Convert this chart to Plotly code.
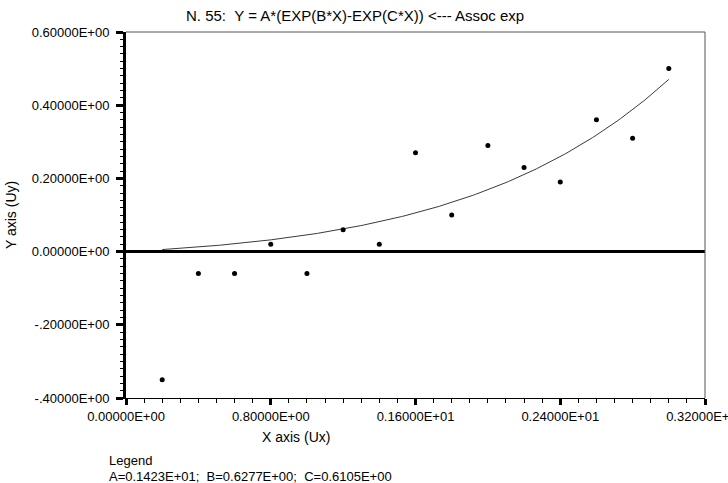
import numpy as np
import plotly.graph_objects as go

# ---- data ----
x_data = [0.2, 0.4, 0.6, 0.8, 1.0, 1.2, 1.4, 1.6, 1.8, 2.0, 2.2, 2.4, 2.6, 2.8, 3.0]
y_data = [-0.35, -0.06, -0.06, 0.02, -0.06, 0.06, 0.02, 0.27, 0.10, 0.29, 0.23, 0.19, 0.36, 0.31, 0.50]

# fitted parameters (shown in the legend)
A = 0.1423e+01
B = 0.6277e+00
C = 0.6105e+00

x_ticks = [0.0, 0.8, 1.6, 2.4, 3.2]
x_tick_labels = ["0.00000E+00", "0.80000E+00", "0.16000E+01", "0.24000E+01", "0.32000E+01"]
y_ticks = [-0.4, -0.2, 0.0, 0.2, 0.4, 0.6]
y_tick_labels = ["-.40000E+00", "-.20000E+00", "0.00000E+00", "0.20000E+00", "0.40000E+00", "0.60000E+00"]

title_text = "N. 55:\u00a0\u00a0Y = A*(EXP(B*X)-EXP(C*X)) <--- Assoc exp"
legend_title = "Legend"
legend_text = "A=0.1423E+01;\u00a0\u00a0B=0.6277E+00;\u00a0\u00a0C=0.6105E+00"

# fitted curve over the data range
xc = np.linspace(min(x_data), max(x_data), 200)
yc = A * (np.exp(B * xc) - np.exp(C * xc))

W, H = 728, 483
L, R, T, Bm = 126, 23, 32, 85
pw, ph = W - L - R, H - T - Bm

def px(xp):
    return (xp - L) / pw

def py(yp):
    return (H - Bm - yp) / ph

FONT = "Liberation Sans, Arial, sans-serif"
FS = 13

fig = go.Figure()
fig.add_trace(go.Scatter(x=xc, y=yc, mode="lines",
                         line=dict(color="#3a3a3a", width=1), hoverinfo="skip"))
fig.add_trace(go.Scatter(x=x_data, y=y_data, mode="markers",
                         marker=dict(color="black", size=5)))

fig.update_layout(
    width=W, height=H,
    margin=dict(l=L, r=R, t=T, b=Bm, autoexpand=False),
    paper_bgcolor="white", plot_bgcolor="white",
    showlegend=False,
    font=dict(family=FONT, size=FS, color="black"),
    xaxis=dict(range=[0, 3.2], tickvals=x_ticks, ticktext=x_tick_labels,
               showgrid=False, zeroline=False,
               showline=True, linecolor="black", linewidth=1,
               ticks="outside", ticklen=6, tickwidth=3, tickcolor="black",
               ticklabeloverflow="allow",
               minor=dict(dtick=0.1, ticks="outside", ticklen=4, tickwidth=1,
                          tickcolor="black", showgrid=False),
               tickfont=dict(family=FONT, size=FS)),
    yaxis=dict(range=[-0.4, 0.6], tickvals=y_ticks, ticktext=y_tick_labels,
               showgrid=False, zeroline=True, zerolinecolor="black", zerolinewidth=3,
               showline=True, linecolor="black", linewidth=3,
               ticks="outside", ticklen=7, tickwidth=3, tickcolor="black",
               ticklabelstandoff=4, ticklabeloverflow="allow",
               minor=dict(dtick=0.02, ticks="outside", ticklen=3, tickwidth=1,
                          tickcolor="black", showgrid=False),
               tickfont=dict(family=FONT, size=FS)),
    shapes=[
        dict(type="line", xref="paper", yref="paper", x0=0, x1=1, y0=1, y1=1,
             line=dict(color="#555555", width=1)),
        dict(type="line", xref="paper", yref="paper", x0=1, x1=1, y0=0, y1=1,
             line=dict(color="#555555", width=1)),
    ],
    annotations=[
        dict(text=title_text, xref="paper", yref="paper", x=px(355), y=py(16),
             xanchor="center", yanchor="middle", showarrow=False,
             font=dict(family=FONT, size=15)),
        dict(text="X axis (Ux)", xref="paper", yref="paper", x=px(296), y=py(437),
             xanchor="center", yanchor="middle", showarrow=False,
             font=dict(family=FONT, size=14)),
        dict(text="Y axis (Uy)", xref="paper", yref="paper", x=px(11), y=py(215),
             xanchor="center", yanchor="middle", showarrow=False, textangle=-90,
             font=dict(family=FONT, size=14)),
        dict(text=legend_title, xref="paper", yref="paper", x=px(107), y=py(460),
             xanchor="left", yanchor="middle", showarrow=False,
             font=dict(family=FONT, size=13)),
        dict(text=legend_text, xref="paper", yref="paper", x=px(107), y=py(476),
             xanchor="left", yanchor="middle", showarrow=False,
             font=dict(family=FONT, size=13)),
    ],
)

fig.write_html("out.html", config={"displayModeBar": False},
               post_script="document.body.style.margin='0';document.body.style.overflow='hidden';")
